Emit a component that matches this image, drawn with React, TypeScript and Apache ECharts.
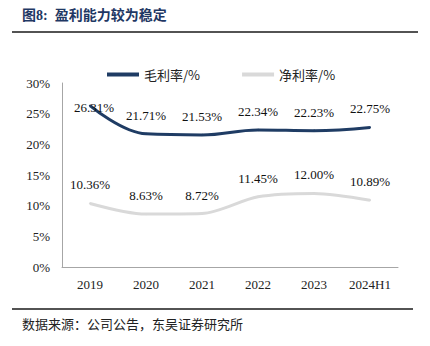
import React, { useEffect, useRef } from "react";
import * as echarts from "echarts";

const categories = ["2019", "2020", "2021", "2022", "2023", "2024H1"];
const grossMargin = [26.31, 21.71, 21.53, 22.34, 22.23, 22.75];
const netMargin = [10.36, 8.63, 8.72, 11.45, 12.0, 10.89];
const yTicks = [0, 5, 10, 15, 20, 25, 30];

const SERIF = "Liberation Serif";
const CJK = "Noto Sans CJK SC";

export default function App() {
  const ref = useRef<HTMLDivElement>(null);
  useEffect(() => {
    if (!ref.current) return;
    const chart = echarts.init(ref.current, undefined, { renderer: "svg" });
    const lbl = (v: number) => v.toFixed(2) + "%";
    const labelCfg = {
      show: true,
      position: "top",
      distance: 11,
      fontSize: 13,
      color: "#111",
      fontFamily: SERIF,
      formatter: (p: any) => lbl(Number(p.value)),
    };
    chart.setOption({
      animation: false,
      backgroundColor: "#ffffff",
      textStyle: { fontFamily: SERIF },
      graphic: [
        {
          type: "text",
          left: 22,
          top: 8,
          style: {
            text: "图8:  盈利能力较为稳定",
            fontFamily: "Liberation Serif, Noto Sans CJK SC",
            fontSize: 14,
            fontWeight: "bold",
            fill: "#1f3864",
          },
        },
        {
          type: "line",
          shape: { x1: 12, y1: 32, x2: 418, y2: 32 },
          style: { stroke: "#1a1a1a", lineWidth: 1.5 },
        },
        {
          type: "line",
          shape: { x1: 12, y1: 309, x2: 413, y2: 309 },
          style: { stroke: "#1a1a1a", lineWidth: 1.5 },
        },
        {
          type: "text",
          left: 22,
          top: 317,
          style: {
            text: "数据来源：公司公告，东吴证券研究所",
            fontFamily: CJK,
            fontSize: 13,
            fill: "#222222",
          },
        },
      ],
      legend: {
        top: 63,
        left: 102,
        itemWidth: 32,
        itemHeight: 4,
        itemGap: 42,
        icon: "rect",
        textStyle: { fontFamily: CJK, fontSize: 13, color: "#222" },
        data: [
          { name: "毛利率/%", itemStyle: { color: "#1f3c64" } },
          { name: "净利率/%", itemStyle: { color: "#d9d9d9" } },
        ],
      },
      grid: { left: 62, right: 32, top: 83, bottom: 79 },
      xAxis: {
        type: "category",
        data: categories,
        boundaryGap: true,
        axisLine: { lineStyle: { color: "#a6a6a6", width: 1 } },
        axisTick: { inside: true, length: 5, lineStyle: { color: "#a6a6a6" } },
        axisLabel: { color: "#222", fontSize: 13, margin: 11, fontFamily: SERIF },
      },
      yAxis: {
        type: "value",
        min: yTicks[0],
        max: yTicks[yTicks.length - 1],
        interval: 5,
        axisLine: { show: true, lineStyle: { color: "#a6a6a6", width: 1 } },
        axisTick: { show: false },
        splitLine: { show: false },
        axisLabel: {
          color: "#222",
          fontSize: 13,
          margin: 12,
          fontFamily: SERIF,
          formatter: (v: number) => v + "%",
        },
      },
      series: [
        {
          name: "毛利率/%",
          type: "line",
          smooth: 0.4,
          symbol: "circle",
          symbolSize: 2,
          showSymbol: true,
          showAllSymbol: true,
          lineStyle: { color: "#1f3c64", width: 3 },
          itemStyle: { color: "#1f3c64" },
          data: grossMargin.map((v, i) =>
            i === 0
              ? { value: v, label: { position: "inside", offset: [4, 2] } }
              : v
          ),
          label: labelCfg,
        },
        {
          name: "净利率/%",
          type: "line",
          smooth: 0.3,
          symbol: "circle",
          symbolSize: 2,
          showSymbol: true,
          showAllSymbol: true,
          lineStyle: { color: "#d9d9d9", width: 3 },
          itemStyle: { color: "#d9d9d9" },
          data: netMargin,
          label: labelCfg,
        },
      ],
    });
    return () => chart.dispose();
  }, []);
  return <div ref={ref} style={{ width: 430, height: 346, position: "absolute", left: 0, top: 0 }} />;
}
